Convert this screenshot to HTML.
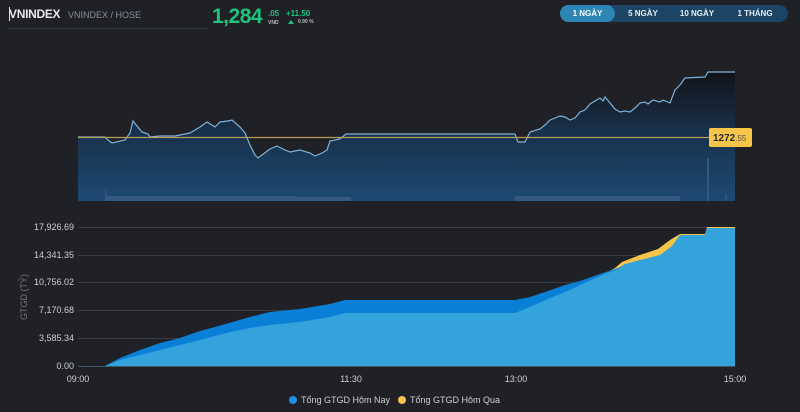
<!DOCTYPE html>
<html><head><meta charset="utf-8"><style>
body{margin:0;width:800px;height:412px;background:#1f2127;overflow:hidden;font-family:"Liberation Sans",sans-serif;position:relative}
.a{position:absolute}
</style></head><body>
<div class="a" style="left:9px;top:7px;color:#e8e8e8;font-weight:bold;font-size:12px;letter-spacing:-0.3px">VNINDEX</div>
<div class="a" style="left:9px;top:7px;width:1px;height:14px;background:#ddd"></div>
<div class="a" style="left:68px;top:10px;color:#8a8d93;font-size:9px">VNINDEX / HOSE</div>
<div class="a" style="left:8px;top:28px;width:200px;height:1px;background:#34373d"></div>
<div class="a" style="left:212px;top:5px;color:#1ec47c;font-weight:bold;font-size:21px;letter-spacing:-0.5px">1,284</div>
<div class="a" style="left:268px;top:9px;color:#1ec47c;font-weight:bold;font-size:8px">.05</div>
<div class="a" style="left:268px;top:20px;color:#bbb;font-size:5px;font-weight:bold">VND</div>
<div class="a" style="left:286px;top:9px;color:#1ec47c;font-weight:bold;font-size:8px">+11.50</div>
<div class="a" style="left:288px;top:20px;width:0;height:0;border-left:3px solid transparent;border-right:3px solid transparent;border-bottom:4px solid #1ec47c"></div>
<div class="a" style="left:298px;top:19px;color:#bbb;font-size:5px;font-weight:bold">0.90 %</div>
<div class="a" style="left:560px;top:5px;width:228px;height:17px;border-radius:9px;background:#1c4565"></div>
<div class="a" style="left:560px;top:5px;width:55px;height:17px;border-radius:9px;background:#2d86b3"></div>
<div class="a" style="left:560px;top:9px;width:55px;text-align:center;color:#fff;font-size:8px;font-weight:bold">1 NGÀY</div>
<div class="a" style="left:618px;top:9px;width:50px;text-align:center;color:#e6eef5;font-size:8px;font-weight:bold">5 NGÀY</div>
<div class="a" style="left:672px;top:9px;width:50px;text-align:center;color:#e6eef5;font-size:8px;font-weight:bold">10 NGÀY</div>
<div class="a" style="left:728px;top:9px;width:54px;text-align:center;color:#e6eef5;font-size:8px;font-weight:bold">1 THÁNG</div>

<svg class="a" style="left:0;top:0" width="800" height="412">
<defs>
<linearGradient id="g" x1="0" y1="0" x2="0" y2="1">
<stop offset="0" stop-color="#111418"/><stop offset="0.45" stop-color="#18304a"/><stop offset="1" stop-color="#1c4a73"/>
</linearGradient>
</defs>
<path d="M78,137 L105,137 L108,140 L112,143 L125,140 L130,133 L133,121 L137,126 L142,132 L148,134 L150,137 L160,136 L175,136 L185,134 L190,133 L200,127 L207,122 L215,127 L220,122 L228,121 L232,120 L240,127 L245,133 L250,145 L255,155 L258,158 L262,155 L270,149 L277,146 L285,150 L290,152 L300,150 L310,153 L315,156 L322,153 L327,150 L330,141 L340,139 L346,134 L515,134 L518,142 L525,142 L530,132 L540,129 L545,125 L550,120 L555,118 L560,116 L565,117 L570,120 L575,118 L580,112 L585,110 L590,104 L595,101 L600,98 L603,101 L605,97 L610,103 L615,109 L620,112 L625,111 L630,112 L635,108 L640,103 L645,102 L648,104 L653,100 L660,102 L663,100 L670,103 L675,90 L680,85 L685,78 L705,77 L708,72 L735,72 L735,201 L78,201 Z" fill="url(#g)"/>
<g fill="#34587e">
<rect x="105" y="189" width="1.5" height="12"/><rect x="106" y="196" width="190" height="5"/><rect x="296" y="197" width="55" height="4"/>
<rect x="515" y="196" width="165" height="5"/><rect x="707" y="158" width="2" height="43"/><rect x="725" y="194" width="2" height="7"/>
</g>
<path d="M78,137 L105,137 L108,140 L112,143 L125,140 L130,133 L133,121 L137,126 L142,132 L148,134 L150,137 L160,136 L175,136 L185,134 L190,133 L200,127 L207,122 L215,127 L220,122 L228,121 L232,120 L240,127 L245,133 L250,145 L255,155 L258,158 L262,155 L270,149 L277,146 L285,150 L290,152 L300,150 L310,153 L315,156 L322,153 L327,150 L330,141 L340,139 L346,134 L515,134 L518,142 L525,142 L530,132 L540,129 L545,125 L550,120 L555,118 L560,116 L565,117 L570,120 L575,118 L580,112 L585,110 L590,104 L595,101 L600,98 L603,101 L605,97 L610,103 L615,109 L620,112 L625,111 L630,112 L635,108 L640,103 L645,102 L648,104 L653,100 L660,102 L663,100 L670,103 L675,90 L680,85 L685,78 L705,77 L708,72 L735,72" fill="none" stroke="#7fb2d6" stroke-width="1.2"/>
<line x1="78" y1="137.5" x2="710" y2="137.5" stroke="#b89a5a" stroke-width="1.2"/>
<rect x="709" y="128" width="43" height="19" rx="2" fill="#f7c548"/>
<text x="713" y="141" font-size="10" font-weight="bold" fill="#2a2a2a">1272<tspan font-size="8" font-weight="normal" fill="#555">.55</tspan></text>

<g stroke="#3a3c42" stroke-width="1">
<line x1="78" y1="227.5" x2="735" y2="227.5"/><line x1="78" y1="255.5" x2="735" y2="255.5"/><line x1="78" y1="282.5" x2="735" y2="282.5"/><line x1="78" y1="310.5" x2="735" y2="310.5"/><line x1="78" y1="338.5" x2="735" y2="338.5"/>
</g>
<g font-size="9" fill="#d0d0d0" text-anchor="end">
<text x="74" y="230">17,926.69</text><text x="74" y="258">14,341.35</text><text x="74" y="285">10,756.02</text><text x="74" y="313">7,170.68</text><text x="74" y="341">3,585.34</text><text x="74" y="369">0.00</text>
</g>
<text transform="translate(27,297) rotate(-90)" font-size="9" fill="#777" text-anchor="middle">GTGD (TỶ)</text>
<path d="M78,366 L105,366 L120,360 L140,355 L160,350 L200,340 L230,332 L250,328 L270,325 L300,322 L330,317 L345,313 L515,313 L530,307 L550,298 L570,290 L580,285 L600,276 L615,268 L622,262 L640,255 L658,249 L670,240 L680,234 L705,234 L707,227 L735,227 L735,366 Z" fill="#f7c548"/>
<path d="M78,366 L105,366 L120,358 L140,350 L160,343 L180,338 L200,331 L215,327 L250,317 L270,312 L300,309 L330,304 L345,300 L515,300 L530,297 L545,292 L565,285 L580,281 L600,274 L615,269 L625,265 L640,261 L660,256 L672,247 L680,235 L705,235 L707,228 L735,228 L735,366 Z" fill="#0a7fd6"/>
<path d="M78,366 L105,366 L120,360 L140,355 L160,350 L200,340 L230,332 L250,328 L270,325 L300,322 L330,317 L345,313 L515,313 L530,307 L550,298 L570,290 L580,285 L600,276 L615,270 L625,264 L640,260 L660,255 L672,246 L680,235 L705,235 L707,228 L735,228 L735,366 Z" fill="#34a3dc"/>
<line x1="78" y1="366.5" x2="735" y2="366.5" stroke="#3f5566"/>
<g font-size="9" fill="#d0d0d0" text-anchor="middle">
<text x="78" y="382">09:00</text><text x="351" y="382">11:30</text><text x="516" y="382">13:00</text><text x="735" y="382">15:00</text>
</g>
<circle cx="293" cy="400" r="4" fill="#1e90e8"/>
<text x="301" y="403" font-size="9" fill="#d0d0d0">Tổng GTGD Hôm Nay</text>
<circle cx="402" cy="400" r="4" fill="#f7c548"/>
<text x="410" y="403" font-size="9" fill="#d0d0d0">Tổng GTGD Hôm Qua</text>
</svg>
</body></html>
